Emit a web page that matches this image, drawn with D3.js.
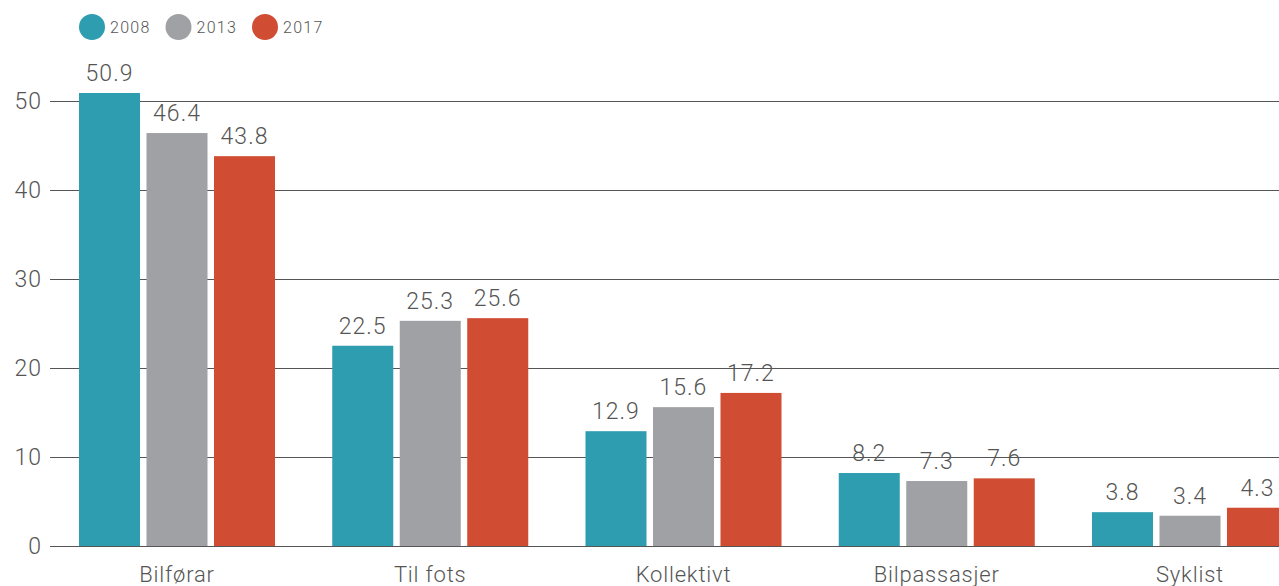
<!DOCTYPE html>
<html>
<head>
<meta charset="utf-8">
<script src="https://cdn.jsdelivr.net/npm/d3@7"></script>
<style>
  html, body { margin: 0; padding: 0; background: #fff; overflow: hidden; }
  svg { display: block; font-family: Roboto, sans-serif; }
</style>
</head>
<body>
<div id="chart"></div>
<script>
const categories = ['Bilførar', 'Til fots', 'Kollektivt', 'Bilpassasjer', 'Syklist'];
const years = ['2008', '2013', '2017'];
const values2008 = [50.9, 22.5, 12.9, 8.2, 3.8];
const values2013 = [46.4, 25.3, 15.6, 7.3, 3.4];
const values2017 = [43.8, 25.6, 17.2, 7.6, 4.3];
const yTicks = [0, 10, 20, 30, 40, 50];
const colors = ['#2e9db0', '#a0a1a5', '#d04c33'];

const series = [values2008, values2013, values2017];

const width = 1279, height = 586;

const svg = d3.select('#chart')
    .append('svg')
    .attr('width', width)
    .attr('height', height);

// scales
const x0 = d3.scaleBand()
    .domain(categories)
    .range([79, 1288])
    .paddingInner(0.226)
    .paddingOuter(0);

const x1 = d3.scaleBand()
    .domain(years)
    .range([0, x0.bandwidth()])
    .paddingInner(0.096);

const y = d3.scaleLinear()
    .domain([0, 50])
    .range([546, 101]);

const color = d3.scaleOrdinal().domain(years).range(colors);

// gridlines + y labels
const yAxis = svg.append('g')
    .attr('transform', 'translate(50,0)')
    .call(d3.axisLeft(y).tickValues(yTicks).tickSize(-(width - 50)).tickPadding(8));

yAxis.select('.domain').remove();
yAxis.selectAll('.tick line')
    .attr('stroke', '#555')
    .attr('stroke-width', 1);
yAxis.selectAll('.tick text')
    .attr('fill', '#555')
    .attr('font-size', '23px')
    .attr('font-weight', 300)
    .attr('letter-spacing', '1px')
    .attr('font-family', 'Roboto, sans-serif');

// bars
const groups = svg.append('g')
    .selectAll('g')
    .data(categories)
    .join('g')
    .attr('transform', d => `translate(${x0(d)},0)`);

groups.selectAll('rect')
    .data((d, i) => years.map((yr, j) => ({ yr, v: series[j][i] })))
    .join('rect')
    .attr('x', d => x1(d.yr))
    .attr('y', d => y(d.v))
    .attr('width', x1.bandwidth())
    .attr('height', d => y(0) - y(d.v))
    .attr('fill', d => color(d.yr));

groups.selectAll('text.val')
    .data((d, i) => years.map((yr, j) => ({ yr, v: series[j][i] })))
    .join('text')
    .attr('class', 'val')
    .attr('x', d => x1(d.yr) + x1.bandwidth() / 2)
    .attr('y', d => y(d.v) - 12)
    .attr('text-anchor', 'middle')
    .attr('fill', '#555')
    .attr('font-size', '23px')
    .attr('font-weight', 300)
    .attr('letter-spacing', '1px')
    .text(d => d.v.toFixed(1));

// category labels (cut by the bottom edge, as in the original)
svg.append('g')
    .selectAll('text')
    .data(categories)
    .join('text')
    .attr('x', d => x0(d) + x0.bandwidth() / 2)
    .attr('y', 582)
    .attr('text-anchor', 'middle')
    .attr('fill', '#555')
    .attr('font-size', '22px')
    .attr('font-weight', 300)
    .attr('letter-spacing', '0.8px')
    .text(d => d);

// legend
const legend = svg.append('g')
    .selectAll('g')
    .data(years)
    .join('g')
    .attr('transform', (d, i) => `translate(${92 + i * 86.5},27)`);

legend.append('circle')
    .attr('r', 13)
    .attr('fill', d => color(d));

legend.append('text')
    .attr('x', 18)
    .attr('y', 6)
    .attr('fill', '#555')
    .attr('font-size', '16px')
    .attr('font-weight', 300)
    .attr('letter-spacing', '1.3px')
    .text(d => d);
</script>
</body>
</html>
